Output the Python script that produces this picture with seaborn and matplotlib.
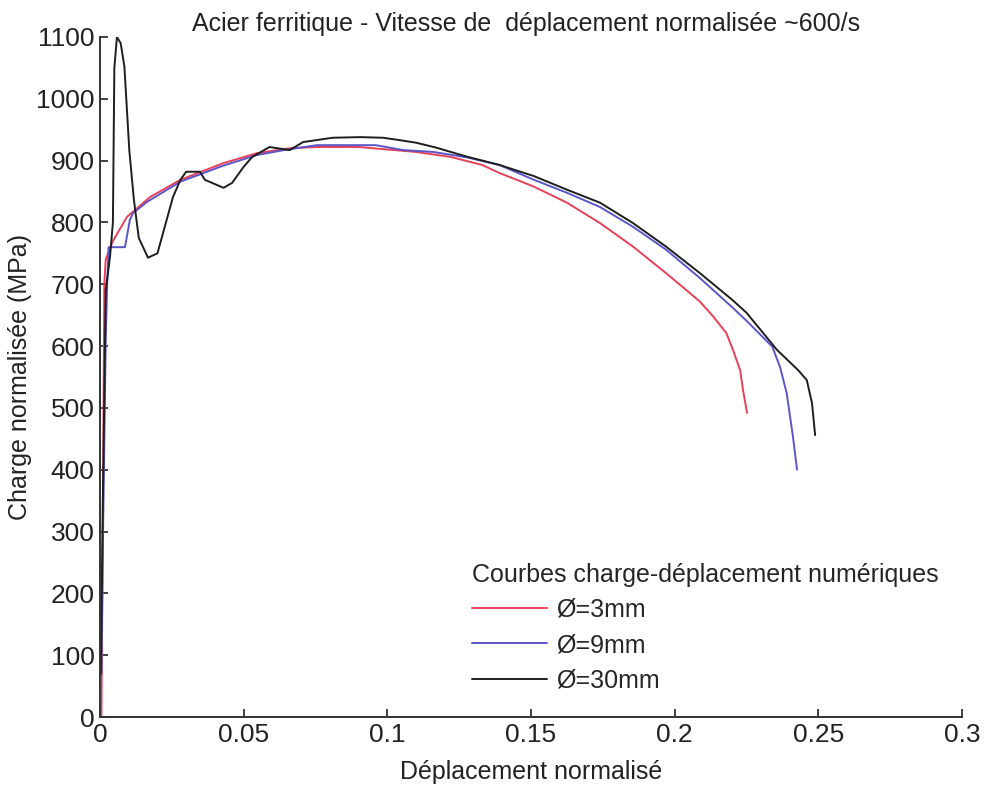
import pandas as pd
import matplotlib
matplotlib.use("Agg")
import matplotlib.pyplot as plt
import seaborn as sns

# --- DATA ---
x_3mm = [0.0005, 0.001, 0.0015, 0.002, 0.0045, 0.0094, 0.0174, 0.028, 0.043, 0.0546,
         0.066, 0.0755, 0.09, 0.110, 0.122, 0.133, 0.139, 0.151, 0.1625, 0.174,
         0.1855, 0.197, 0.2019, 0.2088, 0.2134, 0.218, 0.2203, 0.2228, 0.2238, 0.2252]
y_3mm = [0, 300, 700, 740, 770, 809, 841, 869, 896, 912,
         920, 922, 922, 914, 906, 893, 880, 858, 832, 799,
         761, 718, 699, 672, 648, 621, 594, 561, 529, 492]

x_9mm = [0.0005, 0.001, 0.0015, 0.002, 0.0025, 0.003, 0.0087, 0.0104, 0.0115, 0.0163,
         0.028, 0.043, 0.0546, 0.064, 0.0755, 0.096, 0.1055, 0.116, 0.128, 0.139,
         0.151, 0.1625, 0.174, 0.1855, 0.197, 0.2088, 0.220, 0.225, 0.234, 0.2367,
         0.239, 0.2412, 0.2426]
y_9mm = [70, 280, 440, 610, 700, 760, 760, 804, 815, 833,
         866, 892, 909, 917, 925, 925, 917, 914, 905, 893,
         869, 848, 825, 793, 756, 710, 663, 641, 599, 566,
         524, 453, 400]

x_30mm = [0.0003, 0.001, 0.002, 0.0035, 0.0045, 0.005, 0.0059, 0.0072, 0.0085, 0.0102,
          0.0118, 0.0135, 0.0167, 0.020, 0.0254, 0.028, 0.030, 0.0348, 0.0365, 0.043,
          0.046, 0.050, 0.053, 0.059, 0.066, 0.0707, 0.081, 0.0905, 0.0985, 0.103,
          0.110, 0.117, 0.128, 0.139, 0.151, 0.1625, 0.174, 0.1855, 0.197, 0.2088,
          0.220, 0.225, 0.2356, 0.243, 0.246, 0.2478, 0.2489]
y_30mm = [70, 350, 690, 745, 800, 1050, 1100, 1090, 1052, 917,
          837, 775, 743, 750, 841, 869, 882, 882, 869, 856,
          864, 890, 906, 922, 917, 930, 937, 938, 937, 934,
          929, 921, 906, 893, 875, 853, 832, 799, 761, 718,
          675, 654, 594, 561, 545, 508, 456]

labels = ["Ø=3mm", "Ø=9mm", "Ø=30mm"]
colors = ["#e8405a", "#5a55c8", "#1e1e1e"]
x_ticks = [0, 0.05, 0.1, 0.15, 0.2, 0.25, 0.3]
x_ticklabels = ["0", "0.05", "0.1", "0.15", "0.2", "0.25", "0.3"]
y_ticks = list(range(0, 1101, 100))

df = pd.concat([
    pd.DataFrame({"x": x_3mm, "y": y_3mm, "serie": labels[0]}),
    pd.DataFrame({"x": x_9mm, "y": y_9mm, "serie": labels[1]}),
    pd.DataFrame({"x": x_30mm, "y": y_30mm, "serie": labels[2]}),
], ignore_index=True)

# --- STYLE ---
sns.set_style("ticks")
plt.rcParams['font.family'] = ['Liberation Sans', 'DejaVu Sans']

fig = plt.figure(figsize=(9.85, 7.95), dpi=100)
ax = fig.add_axes([0.1015, 0.0981, 0.8751, 0.8554])

sns.lineplot(data=df, x="x", y="y", hue="serie", palette=dict(zip(labels, colors)),
             sort=False, estimator=None, linewidth=1.4, ax=ax)

ax.set_xlim(0, 0.3)
ax.set_ylim(0, 1100)
ax.set_xticks(x_ticks)
ax.set_xticklabels(x_ticklabels)
ax.set_yticks(y_ticks)
ax.tick_params(direction="in", length=6, width=1.2, labelsize=19, colors="#222222", pad=4)
for s in ["top", "right"]:
    ax.spines[s].set_visible(False)
for s in ["left", "bottom"]:
    ax.spines[s].set_color("#333333")
    ax.spines[s].set_linewidth(1.4)

ax.set_xlabel("Déplacement normalisé", fontsize=18, color="#222222", labelpad=10)
ax.set_ylabel("Charge normalisée (MPa)", fontsize=18, color="#222222", labelpad=3)
ax.set_title("Acier ferritique - Vitesse de  déplacement normalisée ~600/s",
             fontsize=18, color="#222222", x=0.494, pad=4)

leg = ax.legend(title="Courbes charge-déplacement numériques", loc="lower left",
                bbox_to_anchor=(0.405, 0.003), frameon=False, fontsize=18,
                title_fontsize=18, handlelength=3.0, handletextpad=0.4,
                labelspacing=0.45, alignment="left")

fig.savefig("out.png", dpi=100)
